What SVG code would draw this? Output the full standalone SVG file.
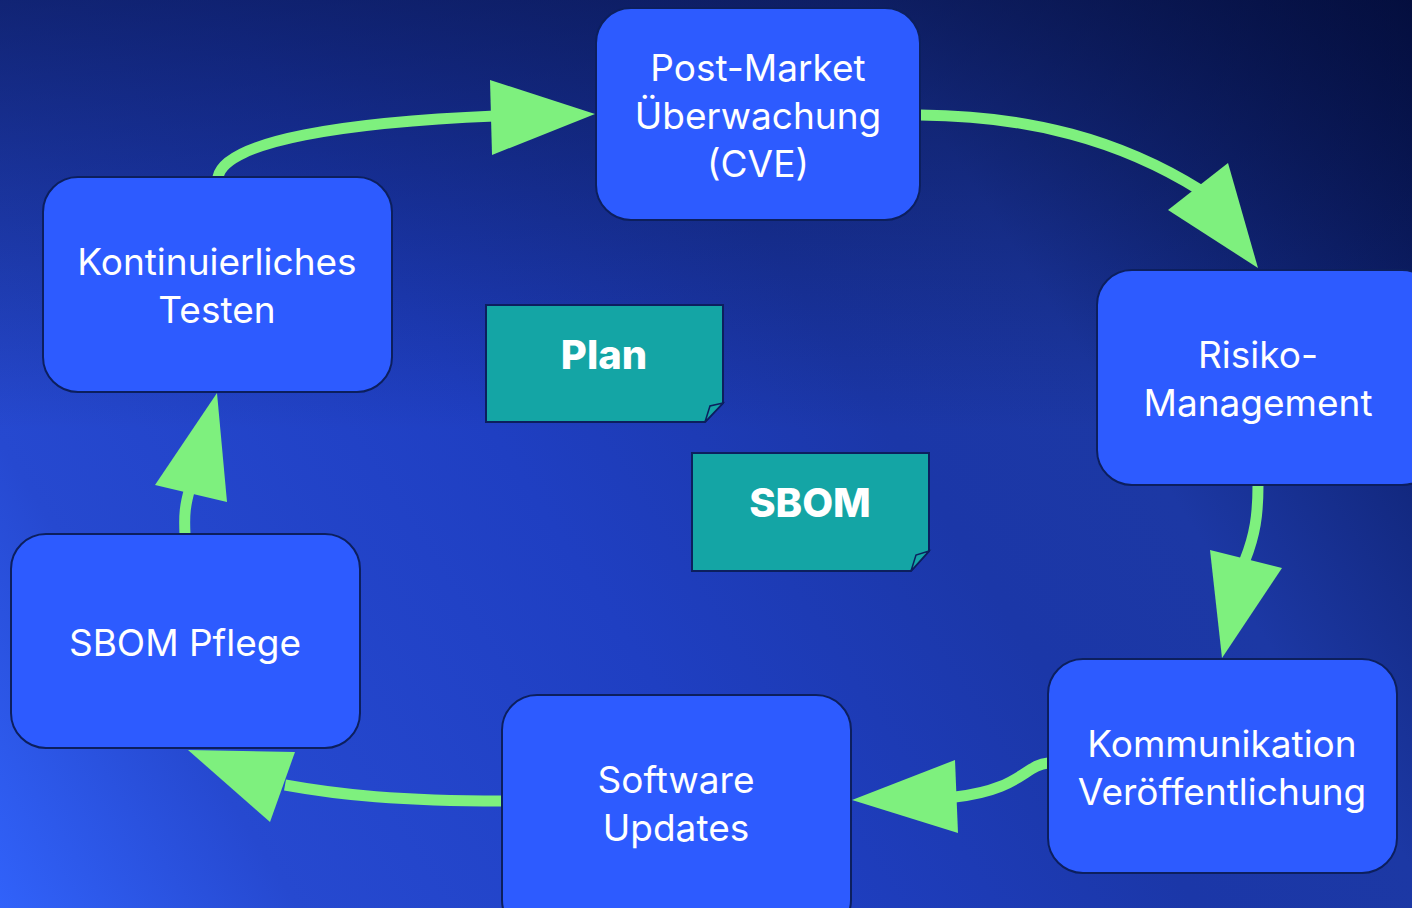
<svg xmlns="http://www.w3.org/2000/svg" width="1412" height="908" viewBox="0 0 1412 908">
<defs>
<linearGradient id="bg" x1="0" y1="908" x2="1412" y2="0" gradientUnits="userSpaceOnUse">
<stop offset="0" stop-color="#3162fa"/>
<stop offset="0.15" stop-color="#2649d0"/>
<stop offset="0.4" stop-color="#1f3fc2"/>
<stop offset="0.6" stop-color="#1b37a8"/>
<stop offset="0.72" stop-color="#1c38a4"/>
<stop offset="1" stop-color="#061450"/>
</linearGradient>
<linearGradient id="shade" x1="0" y1="0" x2="0" y2="430" gradientUnits="userSpaceOnUse">
<stop offset="0" stop-color="#030a30" stop-opacity="0.55"/>
<stop offset="1" stop-color="#030a30" stop-opacity="0"/>
</linearGradient>
<style>
.node{fill:#2d5bff;stroke:#0c1f5e;stroke-width:2}
.note{fill:#14a5a5;stroke:#0c1f5e;stroke-width:2}
.fold{fill:#14a5a5;stroke:#0c1f5e;stroke-width:1.5}
.t{font-family:Inter,"Liberation Sans",sans-serif;font-size:37px;fill:#ffffff;text-anchor:middle}
.b{font-family:Inter,"Liberation Sans",sans-serif;font-size:40px;font-weight:800;fill:#ffffff;text-anchor:middle}
.edge{fill:none;stroke:#7ef07e;stroke-width:11}
.head{fill:#7ef07e;stroke:none}
</style>
</defs>
<rect width="1412" height="908" fill="url(#bg)"/>
<rect width="1412" height="908" fill="url(#shade)"/>
<g id="connectors">
<path class="edge" d="M218,177 C225,140 350,122 495,116"/>
<polygon class="head" points="490,80 595,114 492,155"/>
<path class="edge" d="M920,115 C1030,116 1120,140 1200,190"/>
<polygon class="head" points="1168,210 1228,163 1258,268"/>
<path class="edge" d="M1258,485 C1258,515 1255,535 1245,560"/>
<polygon class="head" points="1210,550 1282,568 1222,658"/>
<path class="edge" d="M1048,763 C1025,765 1020,790 955,797"/>
<polygon class="head" points="955,760 958,833 852,800"/>
<path class="edge" d="M502,801 C400,801 340,795 285,785"/>
<polygon class="head" points="295,752 270,822 188,750"/>
<path class="edge" d="M185,534 C184,515 185,505 190,488"/>
<polygon class="head" points="155,485 227,502 217,393"/>
</g>
<g id="node-postmarket">
<rect class="node" x="596" y="8" width="324" height="212" rx="35"/>
<text class="t" x="758" y="81">Post-Market</text>
<text class="t" x="758" y="129">Überwachung</text>
<text class="t" x="758" y="177">(CVE)</text>
</g>
<g id="node-risiko">
<rect class="node" x="1097" y="270" width="340" height="215" rx="35"/>
<text class="t" x="1258" y="368">Risiko-</text>
<text class="t" x="1258" y="416">Management</text>
</g>
<g id="node-kommunikation">
<rect class="node" x="1048" y="659" width="349" height="214" rx="35"/>
<text class="t" x="1222" y="757">Kommunikation</text>
<text class="t" x="1222" y="805">Veröffentlichung</text>
</g>
<g id="node-software">
<rect class="node" x="502" y="695" width="349" height="240" rx="35"/>
<text class="t" x="676" y="793">Software</text>
<text class="t" x="676" y="841">Updates</text>
</g>
<g id="node-sbompflege">
<rect class="node" x="11" y="534" width="349" height="214" rx="35"/>
<text class="t" x="185" y="656">SBOM Pflege</text>
</g>
<g id="node-testen">
<rect class="node" x="43" y="177" width="349" height="215" rx="35"/>
<text class="t" x="217" y="275">Kontinuierliches</text>
<text class="t" x="217" y="323">Testen</text>
</g>
<g id="note-plan">
<path class="note" d="M486,305 H723 V403 L705,422 H486 Z"/>
<path class="fold" d="M705,422 L710,406 L723,403 Z"/>
<text class="b" x="604" y="369">Plan</text>
</g>
<g id="note-sbom">
<path class="note" d="M692,453 H929 V551 L911,571 H692 Z"/>
<path class="fold" d="M911,571 L916,555 L929,551 Z"/>
<text class="b" x="810" y="517">SBOM</text>
</g>
</svg>
